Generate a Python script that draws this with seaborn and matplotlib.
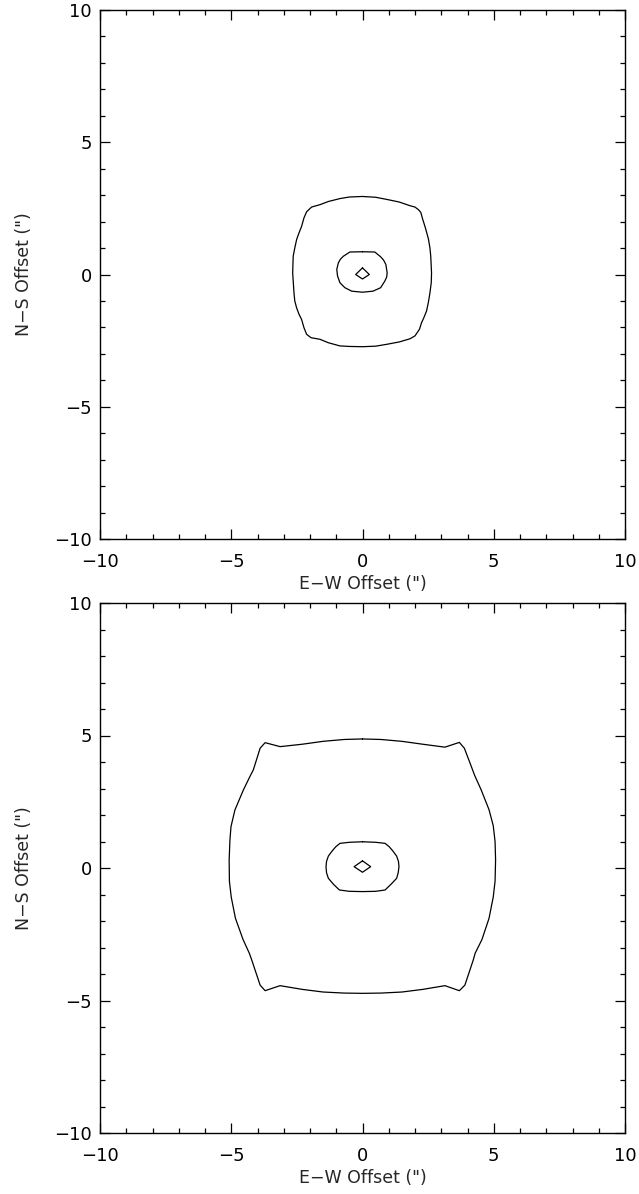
import numpy as np
import pandas as pd
import matplotlib
matplotlib.use('Agg')
import matplotlib.pyplot as plt
import seaborn as sns
from matplotlib.ticker import MultipleLocator

## contour paths (arcsec offsets)

# top panel
top_outer_x = [0, 0.5, 0.92, 1.4, 1.81, 2.0, 2.13, 2.22, 2.29, 2.4, 2.51, 2.57, 2.6, 2.63, 2.62, 2.57, 2.51, 2.44,
               2.33, 2.25, 2.17, 2.0, 1.81, 1.4, 0.92, 0.5,
               0, -0.5, -0.86, -1.3, -1.62, -1.96, -2.13, -2.23, -2.32, -2.42, -2.51, -2.58, -2.61, -2.66,
               -2.65, -2.64, -2.58, -2.51, -2.42, -2.32, -2.23, -2.13, -1.94, -1.62, -1.3, -0.86, -0.5, 0]
top_outer_y = [2.95, 2.92, 2.84, 2.74, 2.6, 2.55, 2.45, 2.35, 2.1, 1.75, 1.35, 1.0, 0.69, 0.06, -0.3, -0.69, -1.05, -1.38,
               -1.65, -1.82, -2.07, -2.32, -2.43, -2.55, -2.64, -2.71,
               -2.73, -2.72, -2.7, -2.58, -2.45, -2.39, -2.26, -2.01, -1.70, -1.5, -1.26, -1.0, -0.69, 0.06,
               0.4, 0.69, 1.0, 1.32, 1.57, 1.82, 2.14, 2.37, 2.55, 2.64, 2.76, 2.87, 2.93, 2.95]
top_mid_x = [0, 0.47, 0.69, 0.8, 0.89, 0.94, 0.92, 0.85, 0.69, 0.4, 0, -0.41, -0.67, -0.86, -0.95, -0.98, -0.92, -0.84, -0.73, -0.48, 0]
top_mid_y = [0.86, 0.85, 0.67, 0.55, 0.38, 0.06, -0.1, -0.25, -0.50, -0.63, -0.67, -0.63, -0.50, -0.31, -0.06, 0.19, 0.44, 0.58, 0.69, 0.85, 0.86]
top_core_x = [0, 0.26, 0, -0.26, 0]
top_core_y = [0.25, 0, -0.17, 0, 0.25]

# bottom panel
bot_outer_x = [0, 0.7, 1.5, 2.3, 3.14, 3.69, 3.88, 4.1, 4.27, 4.52, 4.82, 4.98, 5.05, 5.07, 5.05, 4.98, 4.82, 4.55,
               4.29, 4.22, 3.9, 3.69, 3.14, 2.3, 1.5, 0.7,
               0, -0.7, -1.5, -2.3, -3.14, -3.71, -3.90, -4.22, -4.31, -4.55, -4.84, -5.0, -5.07, -5.08,
               -5.05, -5.01, -4.86, -4.54, -4.29, -4.16, -3.90, -3.71, -3.14, -2.3, -1.5, -0.7, 0]
bot_outer_y = [4.87, 4.85, 4.78, 4.67, 4.56, 4.74, 4.52, 3.95, 3.5, 2.95, 2.2, 1.6, 1.0, 0.3, -0.5, -1.1, -1.9, -2.7,
               -3.22, -3.47, -4.42, -4.63, -4.44, -4.58, -4.68, -4.72,
               -4.73, -4.72, -4.68, -4.58, -4.44, -4.63, -4.42, -3.47, -3.22, -2.7, -1.9, -1.1, -0.5, 0.3,
               1.06, 1.56, 2.19, 2.94, 3.45, 3.70, 4.52, 4.73, 4.58, 4.67, 4.78, 4.85, 4.87]
bot_mid_x = [0, 0.5, 0.86, 1.02, 1.15, 1.3, 1.37, 1.39, 1.36, 1.3, 1.1, 0.86, 0.5, 0, -0.5, -0.88, -1.1, -1.3,
             -1.37, -1.39, -1.37, -1.3, -1.15, -1.02, -0.86, -0.5, 0]
bot_mid_y = [0.99, 0.97, 0.93, 0.8, 0.65, 0.45, 0.25, 0.05, -0.18, -0.39, -0.6, -0.83, -0.88, -0.89, -0.88, -0.83, -0.62, -0.39,
             -0.18, 0.05, 0.25, 0.45, 0.65, 0.8, 0.93, 0.97, 0.99]
bot_core_x = [0, 0.31, 0, -0.32, 0]
bot_core_y = [0.27, 0.05, -0.16, 0.05, 0.27]

ticks = [-10, -5, 0, 5, 10]

sns.set_style('ticks')
plt.rcParams['font.family'] = ['DejaVu Sans']

fig = plt.figure(figsize=(6.39, 11.94), dpi=100)
ax_top = fig.add_axes([100 / 639, 1 - 539 / 1194, 525 / 639, 529 / 1194])
ax_bot = fig.add_axes([100 / 639, 1 - 1133 / 1194, 525 / 639, 530 / 1194])

panels = [
    (ax_top, [(top_outer_x, top_outer_y), (top_mid_x, top_mid_y), (top_core_x, top_core_y)]),
    (ax_bot, [(bot_outer_x, bot_outer_y), (bot_mid_x, bot_mid_y), (bot_core_x, bot_core_y)]),
]

for ax, paths in panels:
    for xs, ys in paths:
        d = pd.DataFrame({'x': xs, 'y': ys})
        sns.lineplot(data=d, x='x', y='y', sort=False, estimator=None,
                     color='black', linewidth=0.9, ax=ax)

    ax.set_xlim(-10, 10)
    ax.set_ylim(-10, 10)
    ax.set_xticks(ticks)
    ax.set_yticks(ticks)
    ax.xaxis.set_minor_locator(MultipleLocator(1))
    ax.yaxis.set_minor_locator(MultipleLocator(1))
    ax.tick_params(which='both', direction='in', top=True, right=True, color='black',
                   width=0.9, labelsize=13, labelcolor='black')
    ax.tick_params(which='major', length=7)
    ax.tick_params(which='minor', length=3.5)
    ax.tick_params(axis='x', which='major', pad=10)
    ax.tick_params(axis='y', which='major', pad=6)
    for sp in ax.spines.values():
        sp.set_visible(True)
        sp.set_linewidth(1.0)
        sp.set_color('black')
    ax.set_xlabel('E\u2212W Offset (")', fontsize=12.5, labelpad=3)
    ax.set_ylabel('N\u2212S Offset (")', fontsize=12.5, labelpad=15)

fig.savefig('out.png', dpi=100, facecolor='white')
